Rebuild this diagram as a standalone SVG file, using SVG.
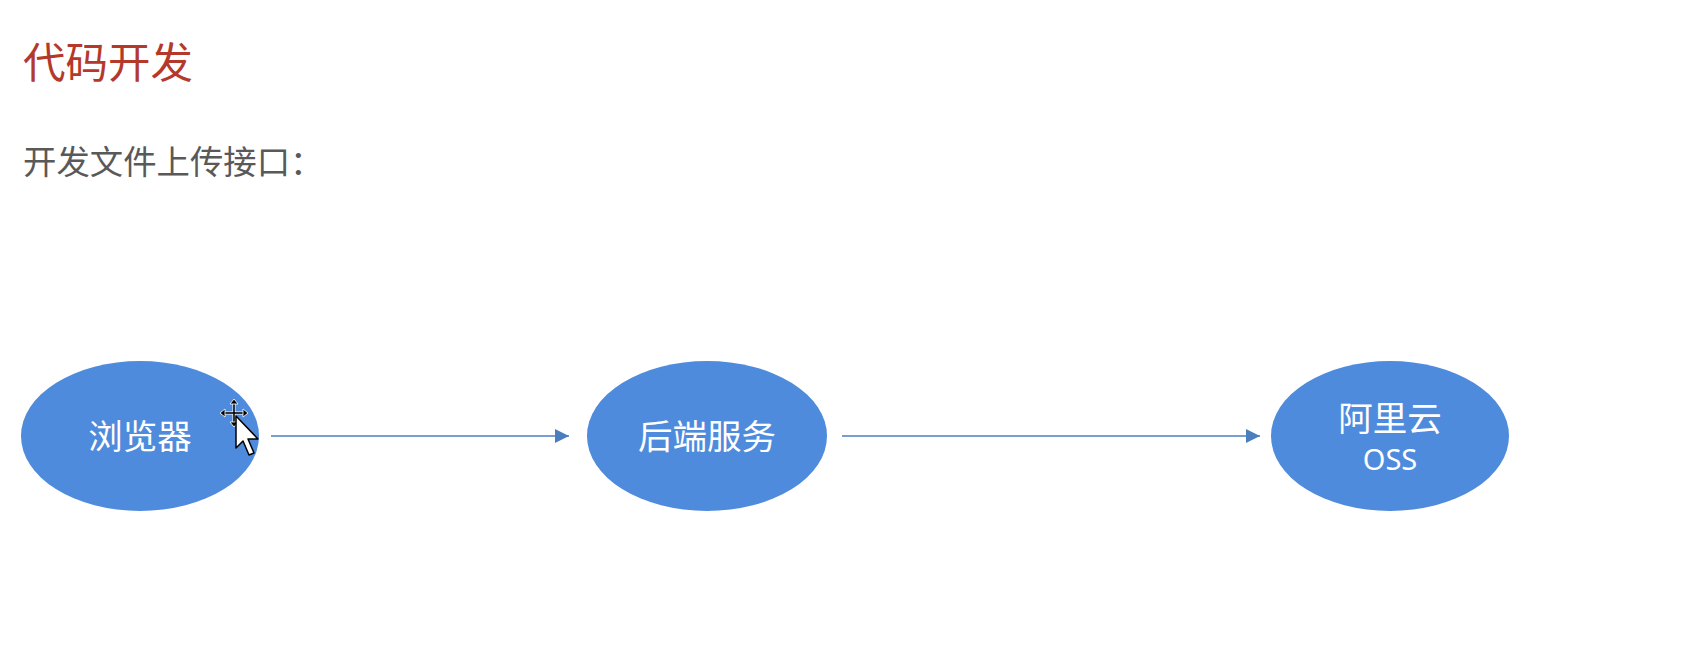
<svg xmlns="http://www.w3.org/2000/svg" width="1694" height="663" viewBox="0 0 1694 663">
<style>
.title{font-family:"Noto Sans CJK SC","Noto Sans",sans-serif;font-size:42.5px;fill:#b5392b}
.sub{font-family:"Noto Sans CJK SC","Noto Sans",sans-serif;font-size:33.4px;fill:#595959}
.node{fill:#4f8bdc}
.lbl{font-family:"Noto Sans CJK SC","Noto Sans",sans-serif;font-size:34.5px;fill:#ffffff;text-anchor:middle}
.lbl2{font-family:"Noto Sans","Noto Sans CJK SC",sans-serif;font-size:29px;fill:#ffffff;text-anchor:middle}
.conn{stroke:#4a7ebf;stroke-width:1.6;fill:none}
</style>
<defs>
<marker id="ah" viewBox="0 0 10 10" refX="10" refY="5" markerWidth="14" markerHeight="14" orient="auto" markerUnits="userSpaceOnUse">
<path d="M0,0 L10,5 L0,10 z" fill="#4a7ebf"/>
</marker>
</defs>
<rect width="1694" height="663" fill="#ffffff"/>
<text class="title" x="23" y="78">代码开发</text>
<text class="sub" x="23" y="174">开发文件上传接口：</text>
<g id="connectors">
<line class="conn" x1="271" y1="436" x2="569" y2="436" marker-end="url(#ah)"/>
<line class="conn" x1="842" y1="436" x2="1260" y2="436" marker-end="url(#ah)"/>
</g>
<g id="node-browser">
<ellipse class="node" cx="140" cy="436" rx="119" ry="75"/>
<text class="lbl" x="140" y="449">浏览器</text>
</g>
<g id="node-backend">
<ellipse class="node" cx="707" cy="436" rx="120" ry="75"/>
<text class="lbl" x="707" y="449">后端服务</text>
</g>
<g id="node-oss">
<ellipse class="node" cx="1390" cy="436" rx="119" ry="75"/>
<text class="lbl" x="1390" y="431">阿里云</text>
<text class="lbl2" x="1390" y="470">OSS</text>
</g>
<g id="cursor">
<g stroke="#ffffff" stroke-width="3" stroke-linecap="round">
<line x1="222" y1="413" x2="246" y2="413"/>
<line x1="234" y1="401" x2="234" y2="425"/>
</g>
<g stroke="#000000" stroke-width="1.6">
<line x1="223" y1="413" x2="245" y2="413"/>
<line x1="234" y1="402" x2="234" y2="424"/>
</g>
<g fill="#000000" stroke="#ffffff" stroke-width="0.8">
<path d="M220,413 L225,409 L225,417 z"/>
<path d="M248,413 L243,409 L243,417 z"/>
<path d="M234,399 L230,404 L238,404 z"/>
<path d="M234,427 L230,422 L238,422 z"/>
</g>
<path d="M236,416 L236,448 L243,441 L249,455 L254,453 L248,439 L258,439 z" fill="#ffffff" stroke="#000000" stroke-width="1.5" stroke-linejoin="round"/>
</g>
</svg>
